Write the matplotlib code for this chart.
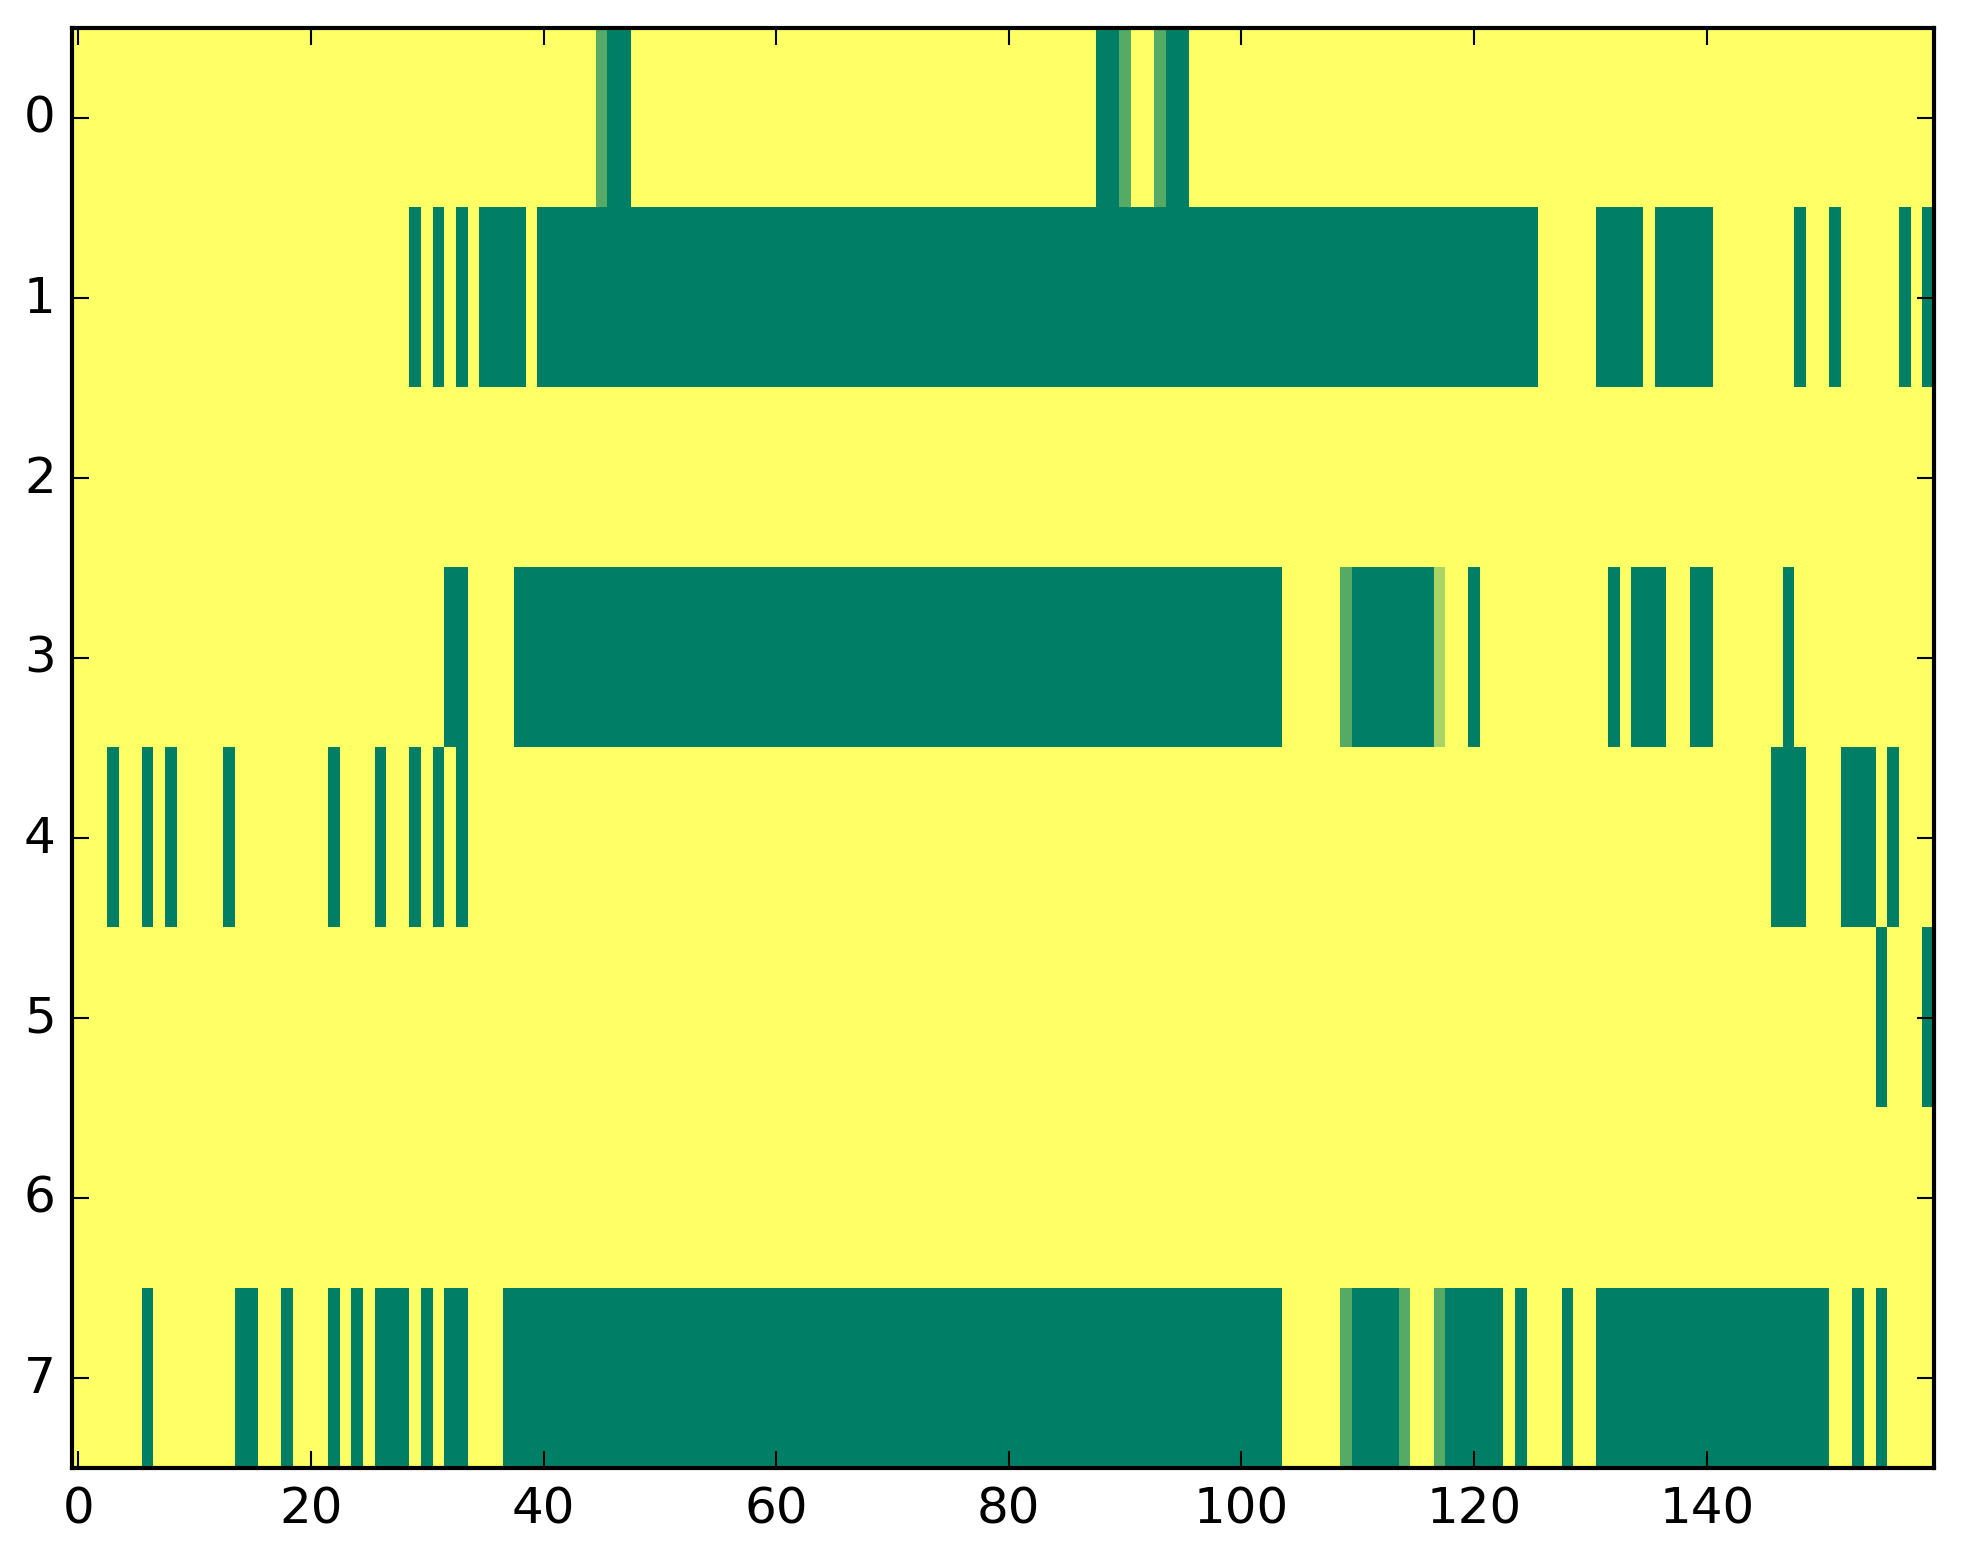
import matplotlib

matplotlib.use("Agg")
import matplotlib.pyplot as plt
import numpy as np

n_rows = 8
n_cols = 160
x_ticks = [0, 20, 40, 60, 80, 100, 120, 140]
y_ticks = [0, 1, 2, 3, 4, 5, 6, 7]

# runs of (first column, last column, level) for each row, rest is 0
row0 = [(45, 45, 2), (46, 47, 3), (88, 89, 3), (90, 90, 2), (93, 93, 2), (94, 95, 3)]
row1 = [(29, 29, 3), (31, 31, 3), (33, 33, 3), (35, 38, 3), (40, 125, 3),
        (131, 134, 3), (136, 140, 3), (148, 148, 3), (151, 151, 3),
        (157, 157, 3), (159, 159, 3)]
row2 = []
row3 = [(32, 33, 3), (38, 103, 3), (109, 109, 2), (110, 116, 3), (117, 117, 1),
        (120, 120, 3), (132, 132, 3), (134, 136, 3), (139, 140, 3), (147, 147, 3)]
row4 = [(3, 3, 3), (6, 6, 3), (8, 8, 3), (13, 13, 3), (22, 22, 3), (26, 26, 3),
        (29, 29, 3), (31, 31, 3), (33, 33, 3), (146, 148, 3), (152, 154, 3),
        (156, 156, 3)]
row5 = [(155, 155, 3), (159, 159, 3)]
row6 = []
row7 = [(6, 6, 3), (14, 15, 3), (18, 18, 3), (22, 22, 3), (24, 24, 3), (26, 28, 3),
        (30, 30, 3), (32, 33, 3), (37, 103, 3), (109, 109, 2), (110, 113, 3),
        (114, 114, 2), (117, 117, 2), (118, 122, 3), (124, 124, 3), (128, 128, 3),
        (131, 150, 3), (153, 153, 3), (155, 155, 3)]

rows = [row0, row1, row2, row3, row4, row5, row6, row7]


def build_grid():
    grid = np.zeros((n_rows, n_cols))
    for r, runs in enumerate(rows):
        for start, end, level in runs:
            grid[r, start:end + 1] = level
    return grid


def main():
    plt.style.use("classic")
    fig = plt.figure(figsize=(1963 / 300, 1564 / 300), dpi=300)
    ax = fig.add_subplot(111)
    fig.subplots_adjust(left=0.0369, right=0.985, top=0.9817, bottom=0.0609)

    ax.imshow(build_grid(), cmap="summer_r", vmin=0, vmax=3,
              aspect="auto", interpolation="nearest")
    ax.set_xticks(x_ticks)
    ax.set_yticks(y_ticks)
    ax.set_xlim(-0.5, n_cols - 0.5)
    ax.set_ylim(n_rows - 0.5, -0.5)

    fig.savefig("out.png", dpi=300)


if __name__ == "__main__":
    main()
